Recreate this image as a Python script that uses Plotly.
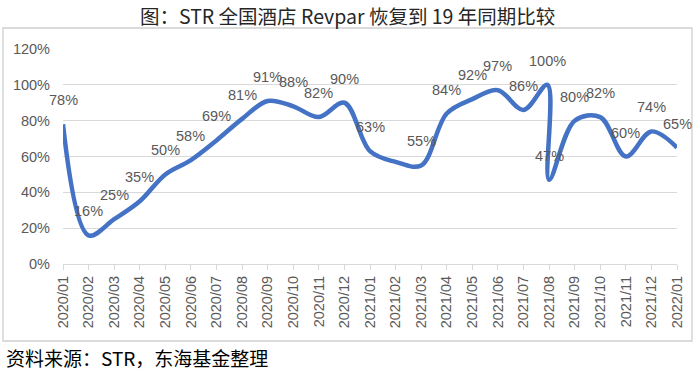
import plotly.graph_objects as go
import pandas as pd

# ---- data ----
tick_labels = ["2020/01", "2020/02", "2020/03", "2020/04", "2020/05", "2020/06",
               "2020/07", "2020/08", "2020/09", "2020/10", "2020/11", "2020/12",
               "2021/01", "2021/02", "2021/03", "2021/04", "2021/05", "2021/06",
               "2021/07", "2021/08", "2021/09", "2021/10", "2021/11", "2021/12",
               "2022/01"]

obs_dates = ["2020-01-01", "2020-02-01", "2020-03-01", "2020-04-01", "2020-05-01",
             "2020-06-01", "2020-07-01", "2020-08-01", "2020-09-01", "2020-10-01",
             "2020-11-01", "2020-12-01", "2021-01-01", "2021-02-01", "2021-03-01",
             "2021-04-01", "2021-05-01", "2021-06-01", "2021-07-01", "2021-07-30",
             "2021-08-01", "2021-09-01", "2021-10-01", "2021-11-01", "2021-12-01",
             "2022-01-01"]

revpar_pct = [78, 16, 25, 35, 50, 58, 69, 81, 91, 88, 82, 90,
              63, 57, 55, 84, 92, 97, 86, 100, 47, 80, 82, 60, 74, 65]

label_shown = [True] * 13 + [False] + [True] * 12

y_ticks = [0, 20, 40, 60, 80, 100, 120]

title_text = "图：STR 全国酒店 Revpar 恢复到 19 年同期比较"
source_text = "资料来源：STR，东海基金整理"

# ---- positions on the monthly category scale ----
base = pd.Timestamp(tick_labels[0].replace("/", "-") + "-01")


def month_pos(d):
    t = pd.Timestamp(d)
    return (t.year - base.year) * 12 + (t.month - base.month) + (t.day - 1) / t.days_in_month


xs = [month_pos(d) for d in obs_dates]
tick_pos = [month_pos(t.replace("/", "-") + "-01") for t in tick_labels]

W, H = 700, 371
ML, MR, MT, MB = 63, 23, 49, 107
pw, ph = W - ML - MR, H - MT - MB


def px2paper(px, py):
    return (px - ML) / pw, (H - MB - py) / ph


fig = go.Figure()
fig.add_trace(go.Scatter(
    x=xs, y=revpar_pct, mode="lines",
    line=dict(color="#4472C4", width=4.5, shape="spline", smoothing=1.0),
    hoverinfo="skip", showlegend=False,
))

label_font = dict(family="Liberation Sans, Arial, sans-serif", size=14.5, color="#595959")
for x, v, show in zip(xs, revpar_pct, label_shown):
    if show:
        fig.add_annotation(x=x, y=v, xref="x", yref="y", text=f"{v}%",
                           showarrow=False, yshift=24, yanchor="middle",
                           font=label_font)

# title and source
tx, ty = px2paper(347, 15)
fig.add_annotation(x=tx, y=ty, xref="paper", yref="paper",
                   text=title_text, showarrow=False, xanchor="center", yanchor="middle",
                   font=dict(family="Noto Sans CJK SC", size=19.5, color="#262626"))

sx, sy = px2paper(4, 357)
fig.add_annotation(x=sx, y=sy, xref="paper", yref="paper", text=source_text,
                   showarrow=False, xanchor="left", yanchor="middle",
                   font=dict(family="Noto Sans CJK SC", size=19, color="#000000"))

# chart-area frame
fx0, fy0 = px2paper(3, 341)
fx1, fy1 = px2paper(692, 28)
fig.add_shape(type="rect", xref="paper", yref="paper", x0=fx0, y0=fy0, x1=fx1, y1=fy1,
              line=dict(color="#d0d0d0", width=1.3), fillcolor="rgba(0,0,0,0)", layer="above")

tick_font = dict(family="Liberation Sans, Arial, sans-serif", size=14.5, color="#595959")
fig.update_layout(
    width=W, height=H,
    margin=dict(l=ML, r=MR, t=MT, b=MB, pad=0, autoexpand=False),
    paper_bgcolor="white", plot_bgcolor="white",
    xaxis=dict(range=[tick_pos[0], tick_pos[-1]], tickmode="array", tickvals=tick_pos,
               ticktext=tick_labels, tickangle=-90, tickfont=tick_font,
               showgrid=False, zeroline=False, showline=True, linecolor="#d9d9d9",
               linewidth=1.3, ticks="outside", ticklen=5, tickcolor="#d9d9d9",
               tickwidth=1.3, fixedrange=True, automargin=False),
    yaxis=dict(range=[0, 120], tickmode="array", tickvals=y_ticks,
               ticktext=[f"{t}%" for t in y_ticks], tickfont=tick_font,
               showgrid=True, gridcolor="#d9d9d9", gridwidth=1.3, zeroline=False,
               showline=False, ticks="", ticklabelstandoff=12, fixedrange=True,
               automargin=False),
)

fig.write_html("out.html", config={"displayModeBar": False},
               post_script="document.body.style.margin='0';")
